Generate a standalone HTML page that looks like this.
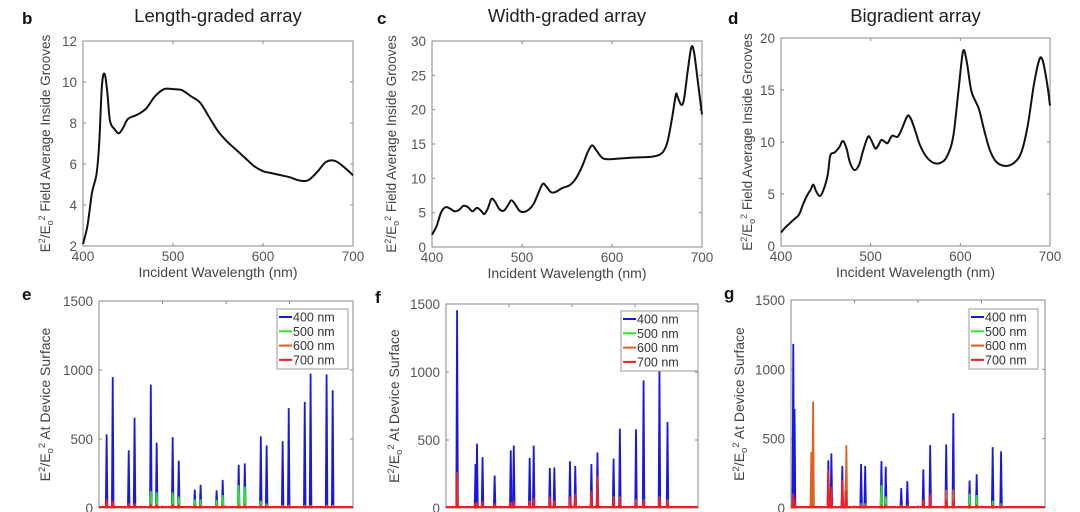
<!DOCTYPE html>
<html><head><meta charset="utf-8">
<style>
html,body{margin:0;padding:0;background:#fff;}
svg{display:block;font-family:"Liberation Sans",sans-serif;}
</style></head>
<body>
<svg id="fig" width="1080" height="512" viewBox="0 0 1080 512" xmlns="http://www.w3.org/2000/svg"></svg>
<script>
// ---- Top panel data (wavelength nm, field enhancement) ----
const bWl = [400,405,410,415,418,421,424,427,430,435,440,445,450,460,470,480,490,500,510,520,530,540,550,560,570,580,590,600,610,620,630,640,650,660,670,680,690,700];
const bVal = [2.1,3.0,4.6,5.5,7.0,9.8,10.4,9.5,8.1,7.7,7.5,7.8,8.2,8.4,8.7,9.3,9.65,9.65,9.6,9.3,9.0,8.3,7.6,7.1,6.7,6.3,5.9,5.65,5.55,5.45,5.35,5.2,5.2,5.6,6.1,6.15,5.85,5.45];
const cWl = [400,405,410,415,420,425,430,435,440,445,450,455,458,462,466,470,475,480,485,488,492,497,502,508,513,518,523,527,532,537,545,553,560,567,573,578,583,590,600,620,640,650,657,662,667,671,673,677,680,684,688,691,695,700];
const cVal = [1.8,3.0,5.0,5.8,5.6,5.2,5.4,6.0,5.8,5.2,5.7,5.2,4.8,5.6,7.0,6.6,5.5,5.3,6.2,6.8,6.3,5.3,5.1,5.5,6.3,7.8,9.2,8.8,8.0,8.0,8.6,9.0,10.0,11.8,13.8,14.8,14.0,12.9,12.8,13.0,13.1,13.3,13.9,15.5,19.0,22.2,21.8,20.7,21.5,25.5,29.0,28.5,24.5,19.3];
const dWl = [400,405,410,415,420,425,430,433,436,439,443,447,452,455,460,465,469,473,477,482,487,492,497,500,505,508,512,516,519,524,530,535,541,545,550,555,562,570,578,585,592,598,603,607,612,617,621,627,633,640,650,660,668,675,682,688,692,697,700];
const dVal = [1.3,1.8,2.2,2.6,3.0,4.1,5.0,5.4,5.9,5.3,4.8,5.3,6.8,8.7,9.0,9.5,10.1,9.4,8.0,7.3,7.8,9.3,10.5,10.3,9.4,9.6,10.2,10.0,9.9,10.6,10.5,11.3,12.5,12.2,11.0,9.7,8.6,8.0,8.0,8.6,10.5,15.0,18.7,17.8,15.0,13.9,13.1,11.0,9.2,8.1,7.7,8.0,9.0,11.5,15.5,17.9,17.8,15.5,13.5];
const xTicks = [400,500,600,700];
const bTicks = [2,4,6,8,10,12];
const cTicks = [0,5,10,15,20,25,30];
const dTicks = [0,5,10,15,20];
// ---- Bottom panel data (position along device 0-100, E^2 per wavelength) ----
const ePos  = [3.0,5.4,11.7,14.0,20.4,22.7,29.0,31.4,37.7,40.0,46.3,48.7,55.0,57.4,63.7,66.0,72.3,74.7,81.0,83.3,89.6,92.0];
const e400  = [530,945,415,650,890,470,510,340,130,165,125,200,310,320,515,450,480,720,765,970,965,850];
const e500  = [40,40,30,30,120,110,110,80,60,60,55,90,160,150,50,30,20,20,20,20,20,20];
const e600  = [30,30,20,20,30,30,30,20,20,20,20,20,20,20,20,20,15,15,15,15,15,15];
const e700  = [60,50,30,30,25,20,20,20,10,10,10,10,10,10,10,10,10,10,10,10,10,10];
const fPos  = [4.4,11.7,12.3,14.5,19.3,25.7,26.9,33.2,34.8,41.2,43.0,49.2,51.3,57.7,60.1,66.5,69.0,75.4,78.4,84.7,87.9];
const f400  = [1450,320,470,370,235,420,455,365,455,290,295,340,305,320,405,360,580,575,935,1030,630];
const f500  = [20,10,10,10,10,10,10,10,10,10,10,20,20,30,30,10,10,10,10,10,10];
const f600  = [80,30,30,40,30,40,40,50,60,60,50,60,70,80,60,80,80,60,60,80,60];
const f700  = [260,35,40,50,30,40,50,40,70,80,40,80,100,120,230,70,70,40,50,70,40];
const gPos  = [0.9,1.4,14.7,15.9,20.2,21.6,27.6,29.2,35.6,37.3,43.4,45.8,52.1,54.8,61.1,63.9,70.3,73.1,79.4,82.7];
const g400  = [1180,710,340,390,300,200,315,300,335,295,140,190,275,450,455,680,195,240,435,405];
const g500  = [20,20,20,20,20,20,30,30,160,80,20,20,40,40,50,50,100,90,50,30];
const g600  = [0,0,0,0,0,0,0,0,0,0,0,0,0,0,130,130,0,0,0,0];
const g700  = [100,60,270,150,200,120,20,20,20,20,20,20,60,100,60,60,20,20,20,20];
const gOrPos = [8.0,8.7,21.8];
const gOrVal = [400,765,450];
const yTicksBottom = [0,500,1000,1500];
const legendLabels = ["400 nm","500 nm","600 nm","700 nm"];
const seriesColors = ["#1818e0","#30e030","#e06020","#f02020"];

const NS="http://www.w3.org/2000/svg";
const svg=document.getElementById('fig');
function mk(tag,attrs,parent){const e=document.createElementNS(NS,tag);for(const k in attrs)e.setAttribute(k,attrs[k]);(parent||svg).appendChild(e);return e;}
function txt(s,x,y,attrs,parent){const t=mk('text',Object.assign({x:x,y:y},attrs),parent);t.textContent=s;return t;}
function scale(d0,d1,r0,r1){return v=>r0+(v-d0)/(d1-d0)*(r1-r0);}

function axesBox(g,L,R,T,B,xt,xs,yt,ys){
  const box=mk('rect',{x:L,y:T,width:R-L,height:B-T,fill:'none',stroke:'#8a8a8a','stroke-width':1},g);
  
  
  if(xt) xt.forEach(v=>{const X=xs(v);mk('line',{x1:X,x2:X,y1:B,y2:B-3,stroke:'#8a8a8a'},g);mk('line',{x1:X,x2:X,y1:T,y2:T+3,stroke:'#8a8a8a'},g);});
  yt.forEach(v=>{const Y=ys(v);mk('line',{x1:L,x2:L+3,y1:Y,y2:Y,stroke:'#8a8a8a'},g);mk('line',{x1:R,x2:R-3,y1:Y,y2:Y,stroke:'#8a8a8a'},g);});
}
function smoothPath(pts){
  let d='M'+pts[0][0].toFixed(2)+','+pts[0][1].toFixed(2);
  for(let i=0;i<pts.length-1;i++){
    const p0=pts[Math.max(0,i-1)],p1=pts[i],p2=pts[i+1],p3=pts[Math.min(pts.length-1,i+2)];
    const c1=[p1[0]+(p2[0]-p0[0])/6,p1[1]+(p2[1]-p0[1])/6];
    const c2=[p2[0]-(p3[0]-p1[0])/6,p2[1]-(p3[1]-p1[1])/6];
    d+=' C'+c1.map(v=>v.toFixed(2)).join(',')+' '+c2.map(v=>v.toFixed(2)).join(',')+' '+p2[0].toFixed(2)+','+p2[1].toFixed(2);
  }
  return d;
}
function topPanel(name,letter,title,L,R,T,B,ymin,ymax,yt,wl,val,ylabX,letX){
  const g=mk('g',{});
  
  
  const xs=scale(400,700,L,R), ys=scale(ymin,ymax,B,T);
  axesBox(g,L,R,T,B,xTicks,xs,yt,ys);
  xTicks.forEach(v=>{const t=txt(String(v),xs(v),B+15,{'font-size':13.5,fill:'#555','text-anchor':'middle'},g);
    
    });
  yt.forEach(v=>{const t=txt(String(v),L-6,ys(v)+5,{'font-size':13.5,fill:'#555','text-anchor':'end'},g);
    
    });
  const xl=txt('Incident Wavelength (nm)',(L+R)/2,B+31,{'font-size':14,fill:'#444','text-anchor':'middle'},g);
  
  
  const cy=(T+B)/2;
  const yl=mk('text',{x:ylabX,y:cy,'font-size':13.5,fill:'#444','text-anchor':'middle',transform:'rotate(-90 '+ylabX+' '+cy+')'},g);
  yl.innerHTML='E<tspan dy="-5" font-size="9">2</tspan><tspan dy="5">/E</tspan><tspan dy="3" font-size="9">o</tspan><tspan dy="-8" font-size="9">2</tspan><tspan dy="5"> Field Average Inside Grooves</tspan>';
  
  
  const tt=txt(title,(L+R)/2,22,{'font-size':18.5,fill:'#222','text-anchor':'middle'},g);
  
  
  const lt=txt(letter,letX,24,{'font-size':17,'font-weight':'bold',fill:'#111'},g);
  
  
  const pts=wl.map((w,i)=>[xs(w),ys(val[i])]);
  const p=mk('path',{d:smoothPath(pts),fill:'none',stroke:'#111','stroke-width':2,'stroke-linejoin':'round'},g);
  
  
}
topPanel('panel-b','b','Length-graded array',83,353,41,246,2,12,bTicks,bWl,bVal,50,22);
topPanel('panel-c','c','Width-graded array',432,702,41,247,0,30,cTicks,cWl,cVal,396,377);
topPanel('panel-d','d','Bigradient array',781,1050,38,246,0,20,dTicks,dWl,dVal,752,728);

function spikes(g,xs,ys,pos,vals,color,name,B){
  pos.forEach((p,i)=>{
    if(vals[i]<=0) return;
    const X=xs(p),Y=ys(vals[i]);
    const s=mk('path',{d:'M'+(X-1.2)+','+B+' L'+(X-0.4)+','+Y+' L'+(X+0.4)+','+Y+' L'+(X+1.2)+','+B+' Z',fill:color,stroke:color,'stroke-width':1},g);
    
    
  });
}
function bottomPanel(name,letter,L,R,T,B,pos,s4,s5,s6,s7,ylabX,letX,leg,extra){
  const g=mk('g',{});
  
  
  const xs=scale(0,100,L,R), ys=scale(0,1500,B,T);
  axesBox(g,L,R,T,B,[25,50,75],xs,yTicksBottom,ys);
  yTicksBottom.forEach(v=>{const t=txt(String(v),L-6,ys(v)+5,{'font-size':13.5,fill:'#555','text-anchor':'end'},g);
    
    });
  const cy=(T+B)/2;
  const yl=mk('text',{x:ylabX,y:cy,'font-size':14,fill:'#444','text-anchor':'middle',transform:'rotate(-90 '+ylabX+' '+cy+')'},g);
  yl.innerHTML='E<tspan dy="-5" font-size="9.5">2</tspan><tspan dy="5">/E</tspan><tspan dy="3" font-size="9.5">o</tspan><tspan dy="-8" font-size="9.5">2</tspan><tspan dy="5"> At Device Surface</tspan>';
  
  
  const lt=txt(letter,letX,T-1,{'font-size':17,'font-weight':'bold',fill:'#111'},g);
  
  
  spikes(g,xs,ys,pos,s4,seriesColors[0],'spike-400nm',B);
  spikes(g,xs,ys,pos,s5,seriesColors[1],'spike-500nm',B);
  spikes(g,xs,ys,pos,s6,seriesColors[2],'spike-600nm',B);
  if(extra) spikes(g,xs,ys,extra[0],extra[1],seriesColors[2],'spike-600nm',B);
  spikes(g,xs,ys,pos,s7,seriesColors[3],'spike-700nm',B);
  const base=mk('line',{x1:L,x2:R,y1:B-1,y2:B-1,stroke:seriesColors[3],'stroke-width':2},g);
  
  
  const lg=mk('g',{},g);
  
  
  mk('rect',{x:leg[0],y:leg[1],width:leg[2],height:60,fill:'#fff',stroke:'#999'},lg);
  legendLabels.forEach((s,i)=>{
    const y=leg[1]+8+i*14.3;
    const e=mk('g',{},lg);
    
    
    mk('line',{x1:leg[0]+2,x2:leg[0]+15,y1:y,y2:y,stroke:seriesColors[i],'stroke-width':2},e);
    txt(s,leg[0]+16,y+4.5,{'font-size':12.5,fill:'#333'},e);
  });
}
bottomPanel('panel-e','e',99,353,301,508,ePos,e400,e500,e600,e700,50,22,[277,309,71]);
bottomPanel('panel-f','f',446,698,304,508,fPos,f400,f500,f600,f700,399,375,[621,311,77]);
bottomPanel('panel-g','g',791,1045,300,508,gPos,g400,g500,g600,g700,744,724,[969,309,69],[gOrPos,gOrVal]);
</script>
</body></html>
